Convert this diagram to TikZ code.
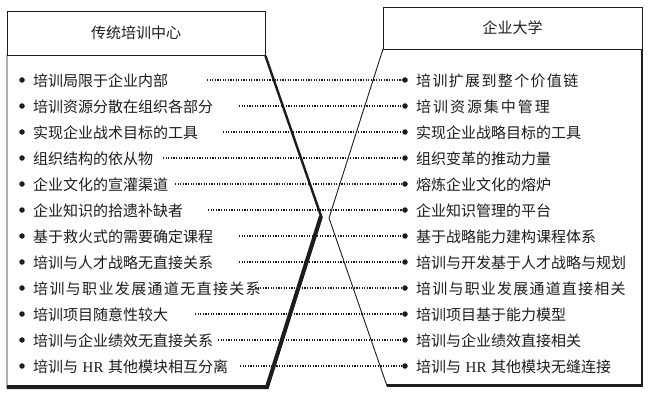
\documentclass[tikz,border=0pt]{standalone}
\usepackage{fontspec}
\setmainfont{Noto Sans CJK SC}
\newfontfamily\lat{Liberation Serif}
\newcommand{\HRw}{\hspace{4.5pt}{\lat HR}\hspace{4.5pt}}
\newcommand{\wide}[1]{\addfontfeature{LetterSpace=#1}}
\definecolor{ink}{HTML}{1C1C1C}
\begin{document}
\begin{tikzpicture}[x=1pt,y=-1pt,
  thin/.style={draw=ink,line width=0.9pt},
  heavy/.style={draw=ink,line join=miter,line cap=butt},
  txt/.style={anchor=west,inner sep=0pt,font=\fontsize{15}{18}\selectfont,text=ink},
  headtxt/.style={inner sep=0pt,font=\fontsize{15}{18}\selectfont,text=ink},
  bullet/.style={circle,fill=ink,inner sep=0pt,minimum size=5.5pt},
  leader/.style={draw=ink,line width=1.15pt,dash pattern=on 1.2pt off 1.4pt}]
\useasboundingbox (0,0) rectangle (652,401);
% ---- left shape
\node[headtxt] (lhead) at (136,33) {传统培训中心};
\draw[thin] (7,11) rectangle (265,55);
\draw[thin] (265,55) -- (322,218) -- (268,388) -- (7,388) -- (7,55);
\draw[heavy,line width=2.4pt] (265.5,56) -- (321,216);
\draw[heavy,line width=4pt] (321,216) -- (267,387) -- (7,387);
\draw[heavy,line width=2.2pt] (267,387.5) -- (7,387.5);
% ---- right shape
\node[headtxt] (rhead) at (512.5,28) {企业大学};
\draw[thin] (383,7) rectangle (642,49);
\draw[thin] (383,49) -- (329,218) -- (387,386) -- (642,386) -- (642,49);
\draw[heavy,line width=2.6pt] (387,385.5) -- (642,385.5) -- (642,49.5);
% ---- rows
\foreach \i/\sx/\lt/\rt in {
 0/207/{培训局限于企业内部}/{\wide{9}培训扩展到整个价值链},
 1/239/{培训资源分散在组织各部分}/{\wide{13}培训资源集中管理},
 2/223/{实现企业战术目标的工具}/{实现企业战略目标的工具},
 3/163/{组织结构的依从物}/{组织变革的推动力量},
 4/175/{企业文化的宣灌渠道}/{熔炼企业文化的熔炉},
 5/208/{企业知识的拾遗补缺者}/{企业知识管理的平台},
 6/239/{基于救火式的需要确定课程}/{基于战略能力建构课程体系},
 7/239/{培训与人才战略无直接关系}/{培训与开发基于人才战略与规划},
 8/255/{\wide{9}培训与职业发展通道无直接关系}/{\wide{8}培训与职业发展通道直接相关},
 9/195/{培训项目随意性较大}/{培训项目基于能力模型},
 10/218/{培训与企业绩效无直接关系}/{培训与企业绩效直接相关},
 11/240/{培训与\HRw 其他模块相互分离}/{培训与\HRw 其他模块无缝连接}}{
  \pgfmathsetmacro{\yy}{80+26*\i}
  \node[bullet] (Lb\i) at (22,\yy) {};
  \node[txt] (Lt\i) at (33,\yy+1.2) {\lt};
  \coordinate (Ls\i) at (\sx,\yy);
  \node[bullet] (Rb\i) at (405,\yy) {};
  \node[txt] (Rt\i) at (416,\yy+1.2) {\rt};
  \draw[leader] (Ls\i) -- (Rb\i);
}
\end{tikzpicture}
\end{document}
